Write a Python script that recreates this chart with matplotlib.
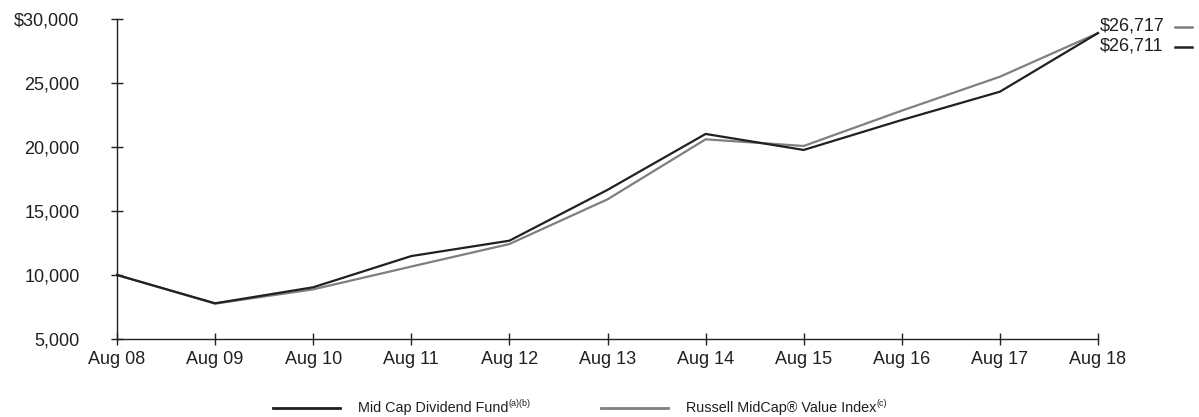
import matplotlib
matplotlib.use("Agg")
import matplotlib.pyplot as plt
from matplotlib.lines import Line2D

plt.rcParams['font.family'] = ['Liberation Sans', 'DejaVu Sans']

# data
years = ["Aug 08", "Aug 09", "Aug 10", "Aug 11", "Aug 12", "Aug 13",
         "Aug 14", "Aug 15", "Aug 16", "Aug 17", "Aug 18"]
fund = [10000, 7790, 9040, 11480, 12680, 16650, 21020, 19770, 22110, 24320, 28900]
index = [10000, 7760, 8880, 10660, 12420, 15910, 20600, 20080, 22840, 25490, 28900]
yticks = [5000, 10000, 15000, 20000, 25000, 30000]
ytick_labels = ["5,000", "10,000", "15,000", "20,000", "25,000", "\\$30,000"]
end_labels = ["\\$26,717", "\\$26,711"]

black = "#231f20"
gray = "#7f7f7f"

fig = plt.figure(figsize=(11.99, 4.17), dpi=100)
ax = fig.add_axes([117/1199, 1-339/417, (1098-117)/1199, (339-19)/417])

x = list(range(len(years)))
ax.plot(x, index, color=gray, lw=1.6, clip_on=False, solid_joinstyle='miter')
ax.plot(x, fund, color=black, lw=1.6, clip_on=False, solid_joinstyle='miter')

ax.set_xlim(0, 10)
ax.set_ylim(5000, 30000)
ax.set_xticks(x)
ax.set_xticklabels(years)
ax.set_yticks(yticks)
ax.set_yticklabels(ytick_labels)
for s in ["top", "right"]:
    ax.spines[s].set_visible(False)
for s in ["left", "bottom"]:
    ax.spines[s].set_color(black)
    ax.spines[s].set_linewidth(1.0)
ax.tick_params(direction='inout', length=8, width=1.0, color=black,
               labelsize=13, labelcolor=black)
ax.tick_params(axis='y', pad=23)
ax.tick_params(axis='x', pad=5)

# end value labels
fig.text(1100/1199, 1-26/417, end_labels[0], fontsize=13, color=black, va='center')
fig.add_artist(Line2D([1175/1199, 1192/1199], [1-27/417, 1-27/417], color=gray, lw=1.8))
fig.text(1100/1199, 1-46/417, end_labels[1], fontsize=13, color=black, va='center')
fig.add_artist(Line2D([1175/1199, 1192/1199], [1-47/417, 1-47/417], color=black, lw=1.8))

# legend
ly = 1-408/417
fig.add_artist(Line2D([273/1199, 340/1199], [ly, ly], color=black, lw=2.0))
fig.add_artist(Line2D([601/1199, 668/1199], [ly, ly], color=gray, lw=2.0))
t1 = fig.text(358/1199, ly, "Mid Cap Dividend Fund", fontsize=10.4, color=black, va='center')
t2 = fig.text(686/1199, ly, "Russell MidCap\u00ae Value Index", fontsize=10.4, color=black, va='center')
fig.canvas.draw()
r = fig.canvas.get_renderer()
for t, sup in [(t1, "(a)(b)"), (t2, "(c)")]:
    bb = t.get_window_extent(r)
    fig.text(bb.x1/1199 + 0.0005, ly + 0.010, sup, fontsize=6.5, color=black, va='center')

fig.savefig("out.png", dpi=100)
